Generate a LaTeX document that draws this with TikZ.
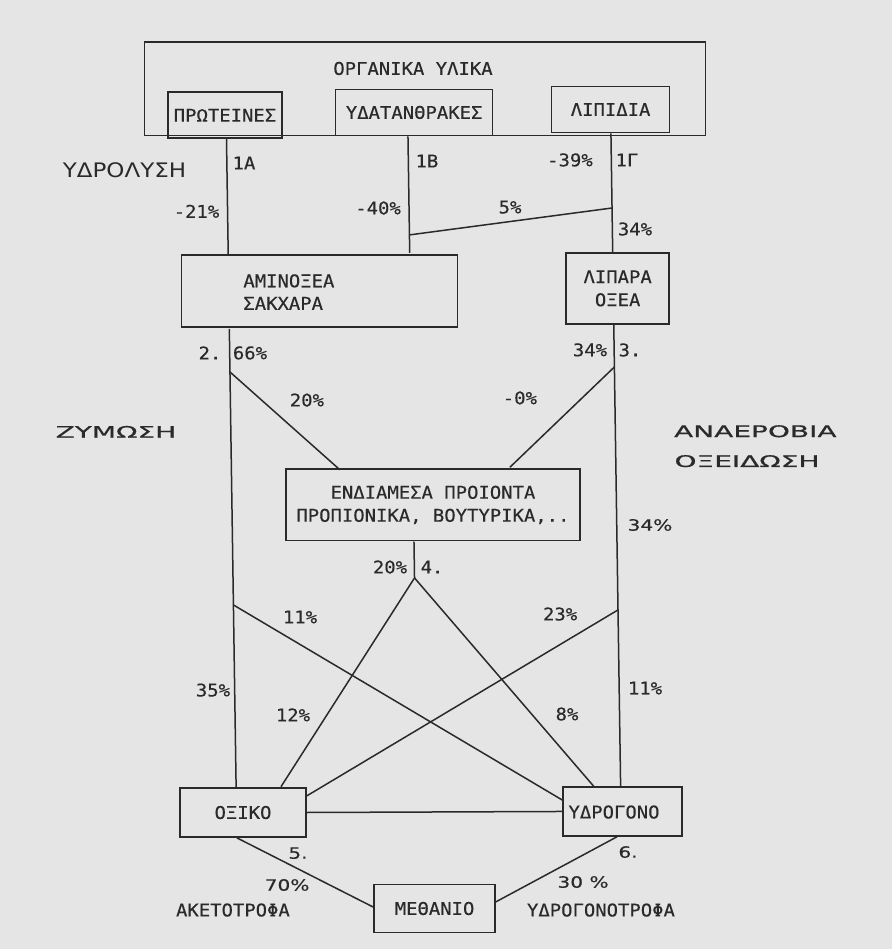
\documentclass[tikz,border=0pt]{standalone}
\usepackage{fontspec}
\newfontfamily\ftw[FakeStretch=1.08,FakeBold=0.3]{DejaVu Sans Mono}
\newfontfamily\fwide[FakeStretch=1.75,FakeBold=0.8]{DejaVu Sans}
\newfontfamily\flbl[FakeStretch=1.15]{DejaVu Sans}
\newfontfamily\fmid[FakeStretch=1.3,FakeBold=0.3]{DejaVu Sans}
\definecolor{bg}{RGB}{229,229,229}
\definecolor{ink}{RGB}{42,42,42}
\tikzset{
  box/.style={draw=ink, line width=1.5pt, rectangle, inner sep=0pt, text=ink,
    font=\ftw\fontsize{17.5}{23}\selectfont, align=center},
  tw/.style={text=ink, inner sep=0pt, font=\ftw\fontsize{17.5}{23}\selectfont,
    text height=12.8pt, text depth=0pt},
  twm/.style={text=ink, inner sep=0pt, font=\ftw\fontsize{17.5}{22.5}\selectfont, align=left},
  wd/.style={text=ink, inner sep=0pt, font=\fwide\fontsize{16}{20}\selectfont,
    text height=11.7pt, text depth=0pt},
  lb/.style={text=ink, inner sep=0pt, font=\flbl\fontsize{20}{24}\selectfont,
    text height=14.6pt, text depth=0pt},
  md/.style={text=ink, inner sep=0pt, font=\fmid\fontsize{15.5}{18}\selectfont,
    text height=11.3pt, text depth=0pt},
  ln/.style={draw=ink, line width=1.5pt},
}
\begin{document}
\begin{tikzpicture}[x=1pt,y=-1pt]
\useasboundingbox (0,0) rectangle (892,949);
\fill[bg] (0,0) rectangle (892,949);
\begin{scope}[rotate around={0.85:(446,474)}]
% boxes
\node[box, minimum width=561pt, minimum height=93.5pt] (outer) at (430.5,88.25) {};
\node[tw] (title) at (419,68) {ΟΡΓΑΝΙΚΑ ΥΛΙΚΑ};
\node[box, minimum width=114pt, minimum height=46pt] (prot) at (230.3,112) {ΠΡΩΤΕΙΝΕΣ};
\node[box, minimum width=157pt, minimum height=46pt] (ydat) at (419.5,112) {ΥΔΑΤΑΝΘΡΑΚΕΣ};
\node[box, minimum width=118pt, minimum height=46pt] (lipid) at (616,112) {ΛΙΠΙΔΙΑ};
\node[box, minimum width=276pt, minimum height=72pt] (amino) at (322,289) {};
\node[twm] (aminotxt) at (291.6,289.7) {ΑΜΙΝΟΞΕΑ\\ΣΑΚΧΑΡΑ};
\node[box, minimum width=103pt, minimum height=71pt] (lipara) at (620.4,291) {ΛΙΠΑΡΑ\\ΟΞΕΑ};
\node[box, minimum width=294pt, minimum height=71.5pt] (endiam) at (432.5,504.75)
  {ΕΝΔΙΑΜΕΣΑ ΠΡΟΙΟΝΤΑ\\ΠΡΟΠΙΟΝΙΚΑ, ΒΟΥΤΥΡΙΚΑ,..};
\node[box, minimum width=126pt, minimum height=49pt] (oxiko) at (238,809.5) {ΟΞΙΚΟ};
\node[box, minimum width=119pt, minimum height=49pt] (ydrog) at (617.6,814.1) {};
\node[tw] (ydrogtxt) at (609,814.5) {ΥΔΡΟΓΟΝΟ};
\node[box, minimum width=121pt, minimum height=48pt] (methan) at (428.1,908.3) {ΜΕΘΑΝΙΟ};
% reference coordinates
\coordinate (xL) at (231.5,0);
\coordinate (xM) at (413,0);
\coordinate (xR) at (616,0);
\coordinate (f1) at (413,234.4);
\coordinate (f2) at (616,210.5);
\coordinate (b2) at (231.5,368.8);
\coordinate (b3) at (616,369.5);
\coordinate (xe1) at (340,0);
\coordinate (xe2) at (510,0);
\coordinate (n4) at (413,577.5);
\coordinate (xo1) at (276.4,0);
\coordinate (xy1) at (589.4,0);
\coordinate (b11) at (231.5,601.8);
\coordinate (b23) at (616,612.5);
\coordinate (yy2) at (0,801.7);
\coordinate (yo2) at (0,794);
\coordinate (ym1) at (0,906);
\coordinate (xy3) at (611.6,0);
\coordinate (ym2) at (0,902.7);
% connectors
\draw[ln] (prot.south -| xL) -- (amino.north -| xL);
\draw[ln] (ydat.south -| xM) -- (amino.north -| xM);
\draw[ln] (lipid.south -| xR) -- (lipara.north -| xR);
\draw[ln] (f1) -- (f2);
\draw[ln] (amino.south -| xL) -- (oxiko.north -| xL);
\draw[ln] (lipara.south -| xR) -- (ydrog.north -| xR);
\draw[ln] (b2) -- (endiam.north -| xe1);
\draw[ln] (b3) -- (endiam.north -| xe2);
\draw[ln] (endiam.south -| xM) -- (n4);
\draw[ln] (n4) -- (oxiko.north -| xo1);
\draw[ln] (n4) -- (ydrog.north -| xy1);
\draw[ln] (b11) -- (ydrog.west |- yy2);
\draw[ln] (b23) -- (oxiko.east |- yo2);
\draw[ln] (oxiko.east) -- (ydrog.west);
\draw[ln] (oxiko.south -| xL) -- (methan.west |- ym1);
\draw[ln] (ydrog.south -| xy3) -- (methan.east |- ym2);
% labels
\node[lb] (hydro) at (129,165) {ΥΔΡΟΛΥΣΗ};
\node[tw] (l1a) at (248.6,160) {1Α};
\node[tw] (l21) at (200.4,207.7) {-21\%};
\node[tw] (l1b) at (431.6,160.7) {1Β};
\node[tw] (l40) at (382,207) {-40\%};
\node[tw] (l39) at (574.6,161.8) {-39\%};
\node[tw] (l1g) at (631.6,162.7) {1Γ};
\node[tw] (l5) at (514,208) {5\%};
\node[tw] (l34a) at (638.6,231.8) {34\%};
\node[tw] (l2) at (211.8,349.5) {2.};
\node[tw] (l66) at (251.8,350) {66\%};
\node[tw] (l20a) at (308,398) {20\%};
\node[tw] (l34b) at (591.8,352) {34\%};
\node[tw] (l3) at (631.8,352.7) {3.};
\node[tw] (l0) at (521,399) {-0\%};
\node[wd] (zym) at (116.6,427) {ΖΥΜΩΣΗ};
\node[wd, anchor=west] (anae) at (674.5,434.6) {ΑΝΑΕΡΟΒΙΑ};
\node[wd, anchor=west] (oxei) at (674.5,464.5) {ΟΞΕΙΔΩΣΗ};
\node[md] (l34c) at (649.2,528) {34\%};
\node[tw] (l20b) at (388.6,566.2) {20\%};
\node[tw] (l4) at (430.6,566.8) {4.};
\node[tw] (l11a) at (297.9,614.8) {11\%};
\node[tw] (l23) at (558,615.7) {23\%};
\node[tw] (l35) at (209.8,686.6) {35\%};
\node[tw] (l12) at (289.4,712.7) {12\%};
\node[tw] (l8) at (563.4,715.8) {8\%};
\node[tw] (l11b) at (641.8,691) {11\%};
\node[md] (l5d) at (292.4,850.8) {5.};
\node[md] (l6d) at (622.4,854.7) {6.};
\node[md] (l70) at (281,882.6) {70\%};
\node[md] (l30) at (577,884) {30 \%};
\node[tw] (aket) at (226.5,906.8) {ΑΚΕΤΟΤΡΟΦΑ};
\node[tw] (ydtr) at (594.5,912.3) {ΥΔΡΟΓΟΝΟΤΡΟΦΑ};
\end{scope}
\end{tikzpicture}
\end{document}
